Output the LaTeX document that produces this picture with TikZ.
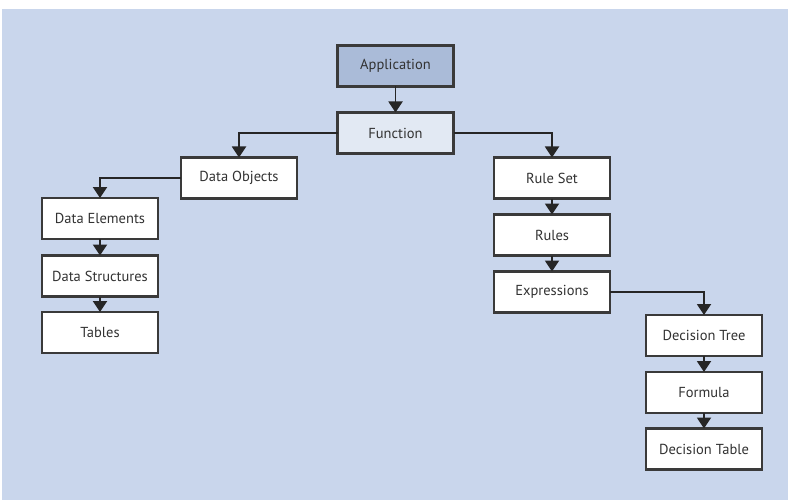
\documentclass[tikz,border=0pt]{standalone}
\usepackage{fontspec}
\setmainfont{PT Sans}
\usetikzlibrary{arrows.meta}
\definecolor{bgblue}{RGB}{201,214,236}
\definecolor{topfill}{RGB}{170,187,216}
\definecolor{midfill}{RGB}{226,233,243}
\definecolor{edge}{RGB}{58,58,58}
\definecolor{txt}{RGB}{50,50,50}
\tikzset{
  box/.style={draw=edge, line width=2.2pt, fill=white, minimum width=116pt,
    minimum height=41pt, inner sep=0pt, outer sep=0pt, text=txt,
    font=\fontsize{14.5}{16}\selectfont},
  link/.style={draw=black!85, line width=1.9pt,
    -{Triangle[width=14pt,length=11pt]}},
}
\begin{document}
\begin{tikzpicture}[x=1pt,y=-1pt]
\useasboundingbox (0,0) rectangle (790,500);
\fill[bgblue] (2,9) rectangle (788,500);

\node[box, fill=topfill] (app) at (395.5,66) {Application};
\node[box, fill=midfill] (func) at (395.5,133) {Function};

\node[box] (dobj) at (239,178) {Data Objects};
\node[box] (delem) at (100,218.5) {Data Elements};
\node[box] (dstruct) at (100,276) {Data Structures};
\node[box] (tables) at (100,332.5) {Tables};

\node[box] (ruleset) at (552,178) {Rule Set};
\node[box] (rules) at (552,235) {Rules};
\node[box] (expr) at (552,292) {Expressions};

\node[box] (dtree) at (704,335.5) {Decision Tree};
\node[box] (formula) at (704,392.5) {Formula};
\node[box] (dtable) at (704,449) {Decision Table};

\draw[link] (app.south) -- (func.north);
\draw[link] (func.west) -| (dobj.north);
\draw[link] (func.east) -| (ruleset.north);
\draw[link] (dobj.west) -| (delem.north);
\draw[link] (delem.south) -- (dstruct.north);
\draw[link] (dstruct.south) -- (tables.north);
\draw[link] (ruleset.south) -- (rules.north);
\draw[link] (rules.south) -- (expr.north);
\draw[link] (expr.east) -| (dtree.north);
\draw[link] (dtree.south) -- (formula.north);
\draw[link] (formula.south) -- (dtable.north);
\end{tikzpicture}
\end{document}
